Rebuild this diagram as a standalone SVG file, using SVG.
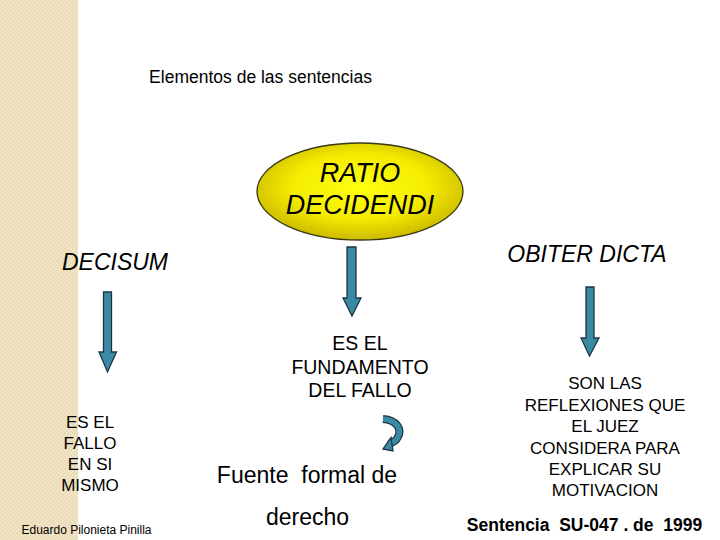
<svg xmlns="http://www.w3.org/2000/svg" width="720" height="540" viewBox="0 0 720 540">
<defs>
<radialGradient id="yg" cx="50%" cy="45%" r="55%">
<stop offset="0" stop-color="#FFFF10"/>
<stop offset="0.6" stop-color="#F4EC00"/>
<stop offset="1" stop-color="#CDBB00"/>
</radialGradient>
<pattern id="tex" width="4" height="4" patternUnits="userSpaceOnUse">
<rect width="4" height="4" fill="#F1E4C4"/>
<rect width="2" height="2" fill="#EADCB8"/>
<rect x="2" y="2" width="2" height="2" fill="#EADCB8"/>
</pattern>
</defs>
<style>
.t{font-family:"Liberation Sans",Arial,sans-serif;fill:#000;text-anchor:middle}
.i{font-style:italic}
.arr{fill:#3A8AA4;stroke:#1E3446;stroke-width:1.3;stroke-linejoin:miter}
</style>
<rect width="720" height="540" fill="#fff"/>
<rect x="0" y="0" width="78" height="540" fill="url(#tex)"/>

<g id="title"><text class="t" x="260.5" y="83" font-size="17.5">Elementos de las sentencias</text></g>

<g id="ratio">
<ellipse cx="360" cy="191.5" rx="103" ry="48.5" fill="url(#yg)" stroke="#3A3A10" stroke-width="1.3"/>
<text class="t i" x="360" y="182" font-size="27">RATIO</text>
<text class="t i" x="360" y="214" font-size="27">DECIDENDI</text>
</g>

<g id="decisum"><text class="t i" x="115" y="270" font-size="23">DECISUM</text></g>
<g id="obiter"><text class="t i" x="587" y="262" font-size="23">OBITER DICTA</text></g>

<g id="connectors">
<polygon class="arr" points="103.5,292 111.5,292 111.5,352 116.5,352 107.5,372 99,352 103.5,352"/>
<polygon class="arr" points="347,247 356,247 356,298 361,298 352,316 343,298 347,298"/>
<polygon class="arr" points="586,287 594,287 594,338 599,338 589.5,356 581,338 586,338"/>
<g id="curved">
<path d="M383,419 C397,420 402,429 398,437 C396,441 392,443 389,444" fill="none" stroke="#1E3446" stroke-width="8"/>
<path d="M383,419 C397,420 402,429 398,437 C396,441 392,443 389,444" fill="none" stroke="#3A8AA4" stroke-width="5.6"/>
<polygon class="arr" points="391,437.5 393,451 383,449"/>
</g>
</g>

<g id="fundamento">
<text class="t" x="360" y="350" font-size="19.5">ES EL</text>
<text class="t" x="360" y="374" font-size="19.5">FUNDAMENTO</text>
<text class="t" x="360" y="397" font-size="19.5">DEL FALLO</text>
</g>

<g id="fallo">
<text class="t" x="90" y="428" font-size="17">ES EL</text>
<text class="t" x="90" y="449" font-size="17">FALLO</text>
<text class="t" x="90" y="470" font-size="17">EN SI</text>
<text class="t" x="90" y="491" font-size="17">MISMO</text>
</g>

<g id="reflexiones">
<text class="t" x="605" y="389" font-size="17">SON LAS</text>
<text class="t" x="605" y="411" font-size="17">REFLEXIONES QUE</text>
<text class="t" x="605" y="432" font-size="17">EL JUEZ</text>
<text class="t" x="605" y="454" font-size="17">CONSIDERA PARA</text>
<text class="t" x="605" y="475" font-size="17">EXPLICAR SU</text>
<text class="t" x="605" y="496" font-size="17">MOTIVACION</text>
</g>

<g id="fuente">
<text class="t" x="307" y="483" font-size="23" xml:space="preserve">Fuente  formal de</text>
<text class="t" x="307.5" y="525" font-size="23">derecho</text>
</g>

<g id="sentencia"><text class="t" x="584.5" y="531" font-size="17.5" font-weight="bold" xml:space="preserve">Sentencia  SU-047 . de  1999</text></g>
<g id="autor"><text class="t" x="86.5" y="534" font-size="12">Eduardo Pilonieta Pinilla</text></g>
</svg>
